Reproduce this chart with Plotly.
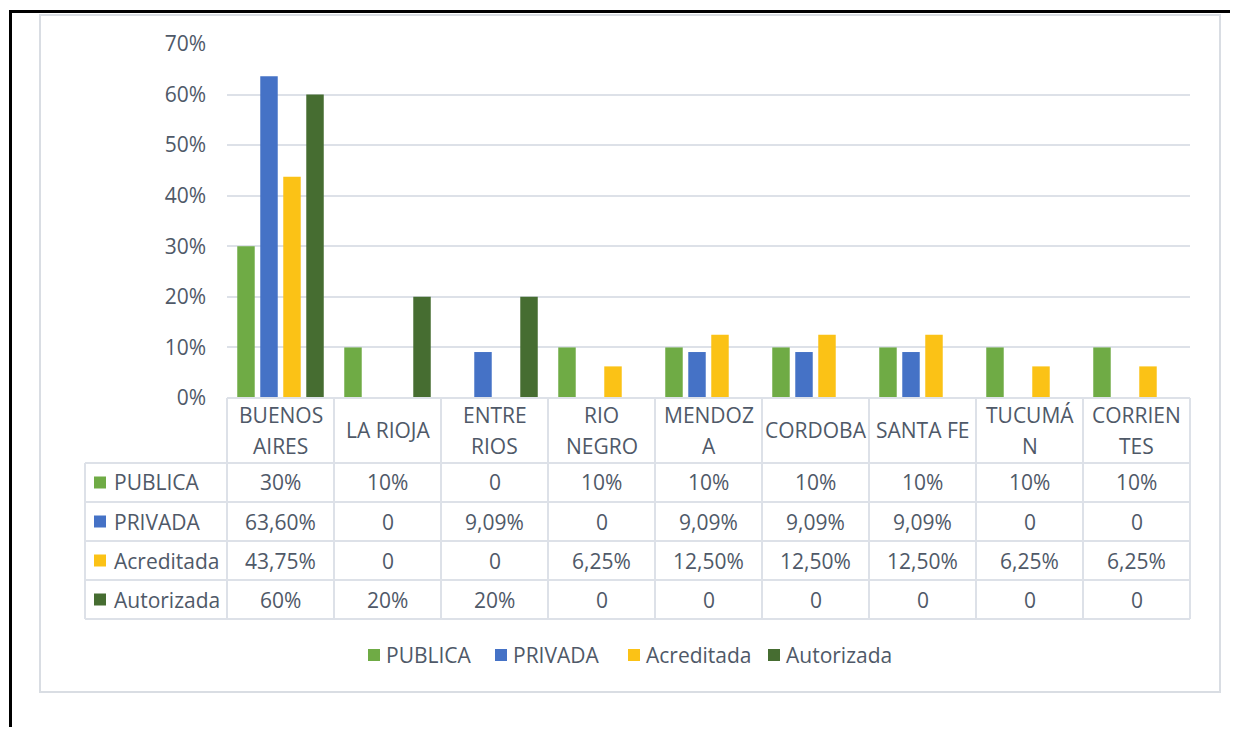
import plotly.graph_objects as go

# ---------------- data ----------------
categories = ["BUENOS<br>AIRES", "LA RIOJA", "ENTRE<br>RIOS", "RIO<br>NEGRO", "MENDOZ<br>A",
              "CORDOBA", "SANTA FE", "TUCUMÁ<br>N", "CORRIEN<br>TES"]
series_names = ["PUBLICA", "PRIVADA", "Acreditada", "Autorizada"]
publica = [0.30, 0.10, 0, 0.10, 0.10, 0.10, 0.10, 0.10, 0.10]
privada = [0.636, 0, 0.0909, 0, 0.0909, 0.0909, 0.0909, 0, 0]
acreditada = [0.4375, 0, 0, 0.0625, 0.125, 0.125, 0.125, 0.0625, 0.0625]
autorizada = [0.60, 0.20, 0.20, 0, 0, 0, 0, 0, 0]
publica_labels = ["30%", "10%", "0", "10%", "10%", "10%", "10%", "10%", "10%"]
privada_labels = ["63,60%", "0", "9,09%", "0", "9,09%", "9,09%", "9,09%", "0", "0"]
acreditada_labels = ["43,75%", "0", "0", "6,25%", "12,50%", "12,50%", "12,50%", "6,25%", "6,25%"]
autorizada_labels = ["60%", "20%", "20%", "0", "0", "0", "0", "0", "0"]
y_ticks = [0, 0.1, 0.2, 0.3, 0.4, 0.5, 0.6, 0.7]
y_tick_labels = ["0%", "10%", "20%", "30%", "40%", "50%", "60%", "70%"]

series_values = [publica, privada, acreditada, autorizada]
series_labels = [publica_labels, privada_labels, acreditada_labels, autorizada_labels]
colors = ["#6fab45", "#4572c6", "#fbc216", "#466d31"]

# ---------------- layout helpers ----------------
OFF = 8                      # browser body margin
W, H = 1222, 719
PX0, PX1 = 219, 1182         # plot area in figure px
PY0, PY1 = 36, 390
PW, PH = PX1 - PX0, PY1 - PY0
FONT = "Open Sans"
TXT = "#4f5968"
GRID = "#dde1e8"
FS = 21


def px(xi):
    return (xi - OFF - PX0) / PW


def py(yi):
    return (PY1 - (yi - OFF)) / PH


fig = go.Figure()
for name, vals, col in zip(series_names, series_values, colors):
    fig.add_trace(go.Bar(x=list(range(len(categories))), y=vals, name=name,
                         marker=dict(color=col, line=dict(width=0)), showlegend=False))

shapes = []
annotations = []

# outer chart border
shapes.append(dict(type="rect", xref="paper", yref="paper", x0=px(40), x1=px(1220),
                   y0=py(15), y1=py(692), line=dict(color="#d9dde3", width=2), layer="below"))
# black frame lines
shapes.append(dict(type="line", xref="paper", yref="paper", x0=px(9), x1=px(1240),
                   y0=py(11.5), y1=py(11.5), line=dict(color="black", width=3)))
shapes.append(dict(type="line", xref="paper", yref="paper", x0=px(10.5), x1=px(10.5),
                   y0=py(10), y1=py(740), line=dict(color="black", width=3)))

# data table
n = len(categories)
row_edges = [463, 502, 541, 580, 619]
tbl_top = 398
tbl_left = 85
shapes.append(dict(type="line", xref="paper", yref="paper", x0=0, x1=1,
                   y0=py(tbl_top), y1=py(tbl_top), line=dict(color=GRID, width=2)))
for ye in row_edges:
    shapes.append(dict(type="line", xref="paper", yref="paper", x0=px(tbl_left), x1=1,
                       y0=py(ye), y1=py(ye), line=dict(color=GRID, width=2)))
for k in range(n + 1):
    shapes.append(dict(type="line", xref="paper", yref="paper", x0=k / n, x1=k / n,
                       y0=py(tbl_top), y1=py(row_edges[-1]), line=dict(color=GRID, width=2)))
shapes.append(dict(type="line", xref="paper", yref="paper", x0=px(tbl_left), x1=px(tbl_left),
                   y0=py(row_edges[0]), y1=py(row_edges[-1]), line=dict(color=GRID, width=2)))

# header (category names)
for i, cat in enumerate(categories):
    lines = cat.split("<br>")
    if len(lines) == 1:
        ys = [430.5]
    else:
        ys = [415, 446]
    for t, yy in zip(lines, ys):
        annotations.append(dict(x=i, xref="x", y=py(yy), yref="paper", text=t, showarrow=False,
                                font=dict(family=FONT, size=FS, color=TXT), xanchor="center",
                                yanchor="middle"))

# rows
for r, (name, labels, col) in enumerate(zip(series_names, series_labels, colors)):
    yc = (row_edges[r] + row_edges[r + 1]) / 2
    shapes.append(dict(type="rect", xref="paper", yref="paper", x0=px(94), x1=px(106),
                       y0=py(yc - 6), y1=py(yc + 6), fillcolor=col, line=dict(width=0)))
    annotations.append(dict(x=px(112), xref="paper", y=py(yc), yref="paper", text=name,
                            showarrow=False, xanchor="left", yanchor="middle",
                            font=dict(family=FONT, size=FS, color=TXT)))
    for i, lab in enumerate(labels):
        annotations.append(dict(x=i, xref="x", y=py(yc), yref="paper", text=lab, showarrow=False,
                                xanchor="center", yanchor="middle",
                                font=dict(family=FONT, size=FS, color=TXT)))

# bottom legend
legend_x = [368, 495, 628, 768]
for name, col, lx in zip(series_names, colors, legend_x):
    shapes.append(dict(type="rect", xref="paper", yref="paper", x0=px(lx), x1=px(lx + 12),
                       y0=py(649), y1=py(661), fillcolor=col, line=dict(width=0)))
    annotations.append(dict(x=px(lx + 16), xref="paper", y=py(655), yref="paper", text=name,
                            showarrow=False, xanchor="left", yanchor="middle",
                            font=dict(family=FONT, size=FS, color=TXT)))

fig.update_layout(
    width=W, height=H,
    margin=dict(l=PX0, r=W - PX1, t=PY0, b=H - PY1, autoexpand=False),
    paper_bgcolor="white", plot_bgcolor="white",
    barmode="group", bargap=0.14, bargroupgap=0.24,
    font=dict(family=FONT, size=FS, color=TXT),
    showlegend=False,
    xaxis=dict(range=[-0.5, n - 0.5], showticklabels=False, showgrid=False, zeroline=False,
               showline=False, ticks=""),
    yaxis=dict(range=[0, 0.7], tickvals=y_ticks, ticktext=y_tick_labels, showgrid=True,
               gridcolor=GRID, gridwidth=2, zeroline=False, showline=False, ticks="",
               ticklabelstandoff=20, tickfont=dict(family=FONT, size=FS, color=TXT)),
    shapes=shapes, annotations=annotations,
)

fig.write_html("out.html")
